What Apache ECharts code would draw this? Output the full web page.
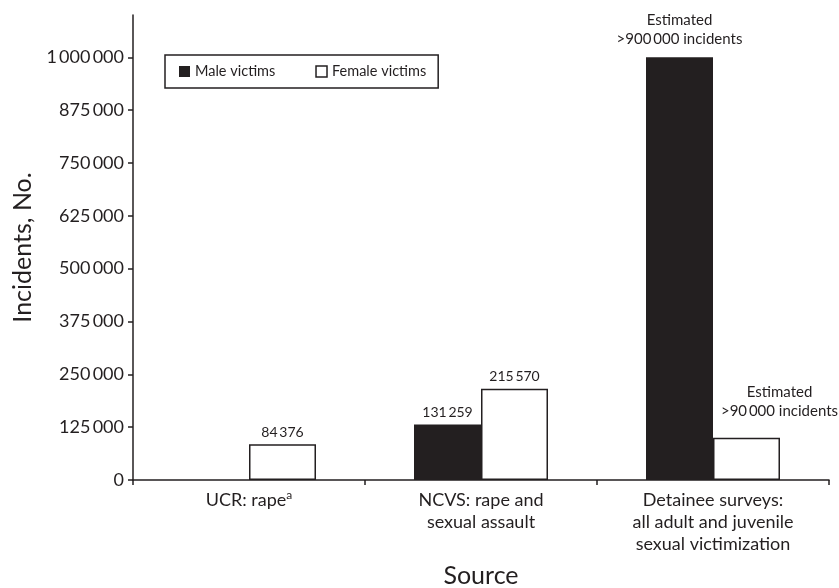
<!DOCTYPE html>
<html><head><meta charset="utf-8">
<script src="https://cdn.jsdelivr.net/npm/echarts@6/dist/echarts.min.js"></script>
<style>html,body{margin:0;padding:0;background:#fff}#c{width:839px;height:588px}</style>
</head><body><div id="c"></div>
<script>
const categories = ['UCR: rape{sup|a}', 'NCVS: rape and\nsexual assault', 'Detainee surveys:\nall adult and juvenile\nsexual victimization'];
const maleValues = [null, 131259, 1000000];
const femaleValues = [84376, 215570, 100000];
const maleLabels = ['', null, 'Estimated\n>900\u2009000 incidents'];
const femaleLabels = [null, null, 'Estimated\n>90\u2009000 incidents'];
const yTicks = [0, 125000, 250000, 375000, 500000, 625000, 750000, 875000, 1000000];

const FONT = 'Lato';
const INK = '#231f20';
function fmt(v) {
  return String(v).replace(/\B(?=(\d{3})+(?!\d))/g, '\u2009');
}
const chart = echarts.init(document.getElementById('c'));
chart.setOption({
  animation: false,
  textStyle: { fontFamily: FONT, color: INK },
  grid: { left: 133, right: 10, top: 15, bottom: 108, containLabel: false, outerBoundsMode: 'none' },
  legend: {
    left: 165, top: 55,
    padding: [9, 12, 9, 14],
    borderColor: INK, borderWidth: 1.5,
    itemWidth: 11, itemHeight: 11, itemGap: 40,
    textStyle: { fontFamily: FONT, fontSize: 14.5, color: INK },
    data: [
      { name: 'Male victims', icon: 'rect', itemStyle: { color: INK, borderWidth: 0 } },
      { name: 'Female victims', icon: 'rect', itemStyle: { color: '#fff', borderColor: INK, borderWidth: 1.5 } }
    ]
  },
  xAxis: {
    type: 'category', data: categories,
    name: 'Source', nameLocation: 'middle', nameGap: 83,
    nameTextStyle: { fontSize: 25, fontFamily: FONT, color: INK },
    axisLine: { lineStyle: { color: INK, width: 1.5 } },
    axisTick: { show: true, length: 5, lineStyle: { color: INK, width: 1.5 } },
    axisLabel: {
      fontSize: 18, lineHeight: 22, margin: 9, color: INK, fontFamily: FONT,
      rich: { sup: { fontSize: 12, padding: [0, 0, 9, 0], color: INK, fontFamily: FONT } }
    }
  },
  yAxis: {
    type: 'value', min: 0, max: 1100000,
    name: 'Incidents, No.', nameLocation: 'middle', nameGap: 97,
    nameTextStyle: { fontSize: 25, fontFamily: FONT, color: INK },
    splitLine: { show: false },
    axisLine: { show: true, lineStyle: { color: INK, width: 1.5 } },
    axisTick: { show: true, length: 5, customValues: yTicks, lineStyle: { color: INK, width: 1.5 } },
    axisLabel: { customValues: yTicks, fontSize: 18, margin: 9, color: INK, fontFamily: FONT, formatter: v => fmt(v) }
  },
  series: [
    {
      name: 'Male victims', type: 'bar', barWidth: 67, barGap: '0%',
      itemStyle: { color: INK },
      data: maleValues.map((v, i) => ({
        value: v,
        label: maleLabels[i] ? { show: true, formatter: maleLabels[i], align: 'center', fontSize: 15, lineHeight: 19, distance: 9 } : undefined
      })),
      label: { show: true, position: 'top', fontSize: 14, color: INK, fontFamily: FONT, distance: 5, formatter: p => fmt(p.value) }
    },
    {
      name: 'Female victims', type: 'bar', barWidth: 67, barGap: '0%',
      itemStyle: { color: '#fff', borderColor: INK, borderWidth: 1.5 },
      data: femaleValues.map((v, i) => ({
        value: v,
        label: femaleLabels[i] ? { show: true, formatter: femaleLabels[i], fontSize: 15, lineHeight: 19, offset: [33, 0], distance: 17 } : undefined
      })),
      label: { show: true, position: 'top', fontSize: 14, color: INK, fontFamily: FONT, distance: 5, formatter: p => fmt(p.value) }
    }
  ]
});
</script></body></html>
